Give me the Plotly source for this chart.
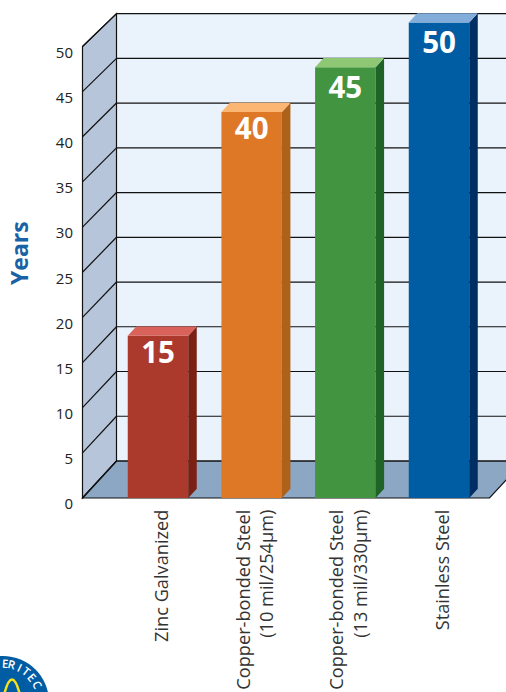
import math
import plotly.graph_objects as go

# ---- data ----
categories = ["Zinc Galvanized", "Copper-bonded Steel<br>(10 mil/254µm)",
              "Copper-bonded Steel<br>(13 mil/330µm)", "Stainless Steel"]
years = [15, 40, 45, 50]
y_ticks = [0, 5, 10, 15, 20, 25, 30, 35, 40, 45, 50]
front_colors = ["#AC3A2C", "#DF7826", "#439440", "#005DA4"]
side_colors = ["#7A2114", "#AE6118", "#1F6426", "#002D62"]
top_colors = ["#D9625A", "#FCB673", "#8EC874", "#82ADDB"]

# ---- page geometry ----
W, H = 506, 692
ML, MB = 80, 192
PX_X = 93.67   # pixels per category
PX_Y = 9.03    # pixels per year on the front plane
CX0 = 158      # pixel centre of the first bar
Y0 = 498       # pixel row of value 0
LABEL_DROP = [20, 20, 23.5, 23]   # pixels from bar top to its value label

xs = list(range(len(categories)))
BAR_W = 60.5 / PX_X
XL, XR = (82.5 - CX0) / PX_X, (489.5 - CX0) / PX_X   # front edge of floor
DX = 34 / PX_X                                        # chart depth
BDX, BDY = 8.5 / PX_X, 9.2 / PX_Y                      # bar depth


def back_y(v):
    return 4.097 + 0.991 * v


def bar_top(v):
    return 3.10 + 0.991 * v


def poly(pts):
    return "M" + "L".join(f"{x},{y}" for x, y in pts) + "Z"


LINE = dict(color="#111111", width=1.2)
shapes = []
ymax_v = y_ticks[-1]
# back wall
shapes.append(dict(type="path", layer="below", xref="x", yref="y", fillcolor="#EAF2FB", line=dict(width=0),
                   path=poly([(XL + DX, back_y(0)), (XR + DX, back_y(0)), (XR + DX, back_y(ymax_v)), (XL + DX, back_y(ymax_v))])))
# left wall
shapes.append(dict(type="path", layer="below", xref="x", yref="y", fillcolor="#B7C5DB", line=LINE,
                   path=poly([(XL, 0), (XL + DX, back_y(0)), (XL + DX, back_y(ymax_v)), (XL, ymax_v)])))
# floor
shapes.append(dict(type="path", layer="below", xref="x", yref="y", fillcolor="#8BA7C4", line=LINE,
                   path=poly([(XL, 0), (XR, 0), (XR + DX, back_y(0)), (XL + DX, back_y(0))])))
# grid lines: along the left wall, then across the back wall
for v in y_ticks:
    shapes.append(dict(type="line", layer="below", xref="x", yref="y", line=LINE,
                       x0=XL, y0=v, x1=XL + DX, y1=back_y(v)))
    shapes.append(dict(type="line", layer="below", xref="x", yref="y", line=LINE,
                       x0=XL + DX, y0=back_y(v), x1=XR + DX, y1=back_y(v)))


# ---- logo at the lower left, given in page pixels ----
def pxx(p):
    return (p - ML) / (W - ML)


def pxy(p):
    return 1 - p / (H - MB)


LOGO_X, LOGO_Y, LOGO_R = 3, 702, 46

shapes.append(dict(type="circle", xref="paper", yref="paper", fillcolor="#005DA4", line=dict(width=0),
                   x0=pxx(LOGO_X - LOGO_R), x1=pxx(LOGO_X + LOGO_R),
                   y0=pxy(LOGO_Y + LOGO_R), y1=pxy(LOGO_Y - LOGO_R)))
shapes.append(dict(type="path", xref="paper", yref="paper", line=dict(color="#F5E21B", width=2.5),
                   path=f"M{pxx(4)},{pxy(695)} Q{pxx(12)},{pxy(664)} {pxx(20)},{pxy(695)}"))

annotations = []
for ch, deg in zip("ERITEC", [3, 14, 26, 38, 50, 63]):
    a = math.radians(deg)
    annotations.append(dict(text=ch, xref="paper", yref="paper", showarrow=False,
                            xanchor="center", yanchor="middle",
                            x=pxx(LOGO_X + 38.5 * math.sin(a)), y=pxy(LOGO_Y - 38.5 * math.cos(a)),
                            textangle=deg, font=dict(family="Open Sans", size=11.5, color="white", weight=600)))
annotations.append(dict(text="Years", xref="paper", yref="paper", showarrow=False,
                        xanchor="center", yanchor="middle", x=pxx(19), y=pxy(253), textangle=-90,
                        font=dict(family="Open Sans", size=23, color="#1A62A6", weight=700)))

fig = go.Figure()
tops = [bar_top(v) for v in years]

# bar fronts
fig.add_trace(go.Bar(x=xs, y=tops, width=BAR_W, marker=dict(color=front_colors, line=dict(width=0)),
                     hoverinfo="skip", showlegend=False))

# bar sides and tops
for x, top, cs, ct in zip(xs, tops, side_colors, top_colors):
    l, r = x - BAR_W / 2, x + BAR_W / 2
    fig.add_trace(go.Scatter(x=[r, r + BDX, r + BDX, r, r], y=[0, BDY, top + BDY, top, 0], mode="lines", fill="toself",
                             fillcolor=cs, line=dict(width=0), hoverinfo="skip", showlegend=False))
    fig.add_trace(go.Scatter(x=[l, r, r + BDX, l + BDX, l], y=[top, top, top + BDY, top + BDY, top], mode="lines",
                             fill="toself", fillcolor=ct, line=dict(width=0), hoverinfo="skip", showlegend=False))

# value labels
fig.add_trace(go.Scatter(x=xs, y=[t - d / PX_Y for t, d in zip(tops, LABEL_DROP)], mode="text",
                         text=[str(v) for v in years],
                         textfont=dict(family="Open Sans", size=29.5, color="white", weight=700),
                         hoverinfo="skip", showlegend=False))

fig.update_layout(
    width=W, height=H, margin=dict(l=ML, r=0, t=0, b=MB, pad=0),
    paper_bgcolor="white", plot_bgcolor="white", shapes=shapes, annotations=annotations,
    xaxis=dict(range=[(ML - CX0) / PX_X, (W - CX0) / PX_X], tickmode="array", tickvals=xs, ticktext=categories,
               tickangle=-90, ticks="", ticklen=0, showgrid=False, zeroline=False, showline=False,
               tickfont=dict(family="Open Sans", size=18.2, color="#333333"), ticklabelstandoff=5, ticklabelshift=4),
    yaxis=dict(range=[-(H - MB - Y0) / PX_Y, Y0 / PX_Y], tickmode="array", tickvals=y_ticks,
               ticks="", showgrid=False, zeroline=False, showline=False,
               tickfont=dict(family="Open Sans", size=15, color="#222222"), ticklabelstandoff=6, ticklabelshift=6),
)

fig.write_html("out.html", config={"displayModeBar": False},
               post_script="document.body.style.margin='0';document.documentElement.style.overflow='hidden';")
